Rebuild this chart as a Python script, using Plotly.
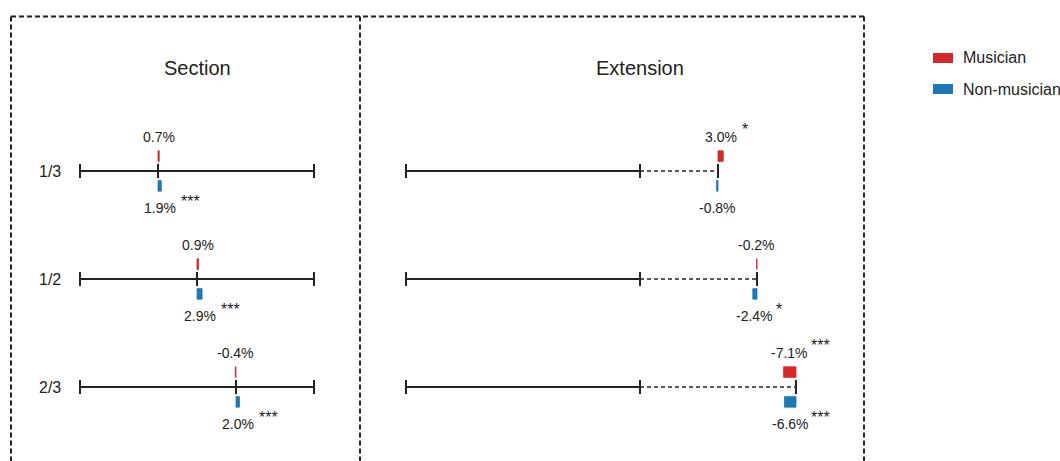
import plotly.graph_objects as go

# ---- data -------------------------------------------------------------
fractions = [1/3, 1/2, 2/3]
row_labels = ["1/3", "1/2", "2/3"]

# bias (%) for the section task
section_musician = [0.7, 0.9, -0.4]
section_nonmusician = [1.9, 2.9, 2.0]
section_musician_sig = ["", "", ""]
section_nonmusician_sig = ["***", "***", "***"]

# bias (%) for the extension task
extension_musician = [3.0, -0.2, -7.1]
extension_nonmusician = [-0.8, -2.4, -6.6]
extension_musician_sig = ["*", "", "***"]
extension_nonmusician_sig = ["", "*", "***"]

groups = ["Musician", "Non-musician"]
colors = {"Musician": "#d62728", "Non-musician": "#1f77b4"}

# ---- geometry ---------------------------------------------------------
W, H = 1060, 461
PX_PER_UNIT = 234.0          # length of one reference line in pixels
LINE_START_PX = 80.0
RIGHT_OFFSET = (406.0 - LINE_START_PX) / PX_PER_UNIT   # start of extension line
ROW0_PX, ROW_STEP_PX = 171.0, 108.0
BAR_SCALE = 1.75 / PX_PER_UNIT                        # line units per 1 % bias
BAR_OFFSET, BAR_WIDTH = 0.138, 0.098
CAP = 10
INK = "#222222"
FONT = "Liberation Sans, Arial, sans-serif"

x_range = [-LINE_START_PX / PX_PER_UNIT, (W - LINE_START_PX) / PX_PER_UNIT]
y_range = [(H - ROW0_PX) / ROW_STEP_PX, -ROW0_PX / ROW_STEP_PX]

fig = go.Figure()


def hline(x0, x1, y, dash="solid"):
    fig.add_trace(go.Scatter(
        x=[x0, x1], y=[y, y], mode="lines",
        line=dict(color=INK, width=2 if dash == "solid" else 1.5, dash=dash),
        hoverinfo="skip", showlegend=False))


def ticks(xs, y):
    fig.add_trace(go.Scatter(
        x=xs, y=[y] * len(xs), mode="markers",
        marker=dict(symbol="line-ns-open", size=CAP, color=INK,
                    line=dict(color=INK, width=2)),
        hoverinfo="skip", showlegend=False))


annotations = []


def bars(anchor_x, rows, values, sigs, group):
    sign = -1 if group == "Musician" else 1
    ys = [r + sign * BAR_OFFSET for r in rows]
    fig.add_trace(go.Bar(
        orientation="h", y=ys, x=[v * BAR_SCALE for v in values],
        base=anchor_x, width=BAR_WIDTH,
        marker=dict(color=colors[group], line=dict(color=colors[group], width=0.8)),
        hoverinfo="skip", showlegend=False))
    for ax, r, v, s in zip(anchor_x, rows, values, sigs):
        cx = ax + v * BAR_SCALE / 2
        ly = r + (-0.315 if group == "Musician" else 0.343)
        annotations.append(dict(
            x=cx, y=ly, text=f"{v:.1f}%", showarrow=False,
            xanchor="center", yanchor="middle",
            font=dict(size=14, color=INK, family=FONT)))
        if s:
            annotations.append(dict(
                x=cx, y=ly, text=s, showarrow=False,
                xanchor="left", yanchor="middle", xshift=19, yshift=7,
                font=dict(size=16, color=INK, family=FONT)))


rows = list(range(len(fractions)))

# Section panel: full line with a mark at the fraction
for r, f in zip(rows, fractions):
    hline(0, 1, r)
    ticks([0, f, 1], r)
sec_anchor = list(fractions)
bars(sec_anchor, rows, section_musician, section_musician_sig, "Musician")
bars(sec_anchor, rows, section_nonmusician, section_nonmusician_sig, "Non-musician")

# Extension panel: full line, then a dashed extension by the fraction
for r, f in zip(rows, fractions):
    hline(RIGHT_OFFSET, RIGHT_OFFSET + 1, r)
    hline(RIGHT_OFFSET + 1, RIGHT_OFFSET + 1 + f, r, dash="4px,3px")
    ticks([RIGHT_OFFSET, RIGHT_OFFSET + 1, RIGHT_OFFSET + 1 + f], r)
ext_anchor = [RIGHT_OFFSET + 1 + f for f in fractions]
bars(ext_anchor, rows, extension_musician, extension_musician_sig, "Musician")
bars(ext_anchor, rows, extension_nonmusician, extension_nonmusician_sig, "Non-musician")

# row labels
for r, lab in zip(rows, row_labels):
    annotations.append(dict(
        x=-(LINE_START_PX - 63) / PX_PER_UNIT, y=r, text=lab, showarrow=False,
        xanchor="right", yanchor="middle",
        font=dict(size=16, color=INK, family=FONT)))

# panel titles
title_y = (68 - ROW0_PX) / ROW_STEP_PX
annotations.append(dict(x=0.5, y=title_y, text="Section", showarrow=False,
                        xanchor="center", yanchor="middle",
                        font=dict(size=20, color=INK, family=FONT)))
annotations.append(dict(x=RIGHT_OFFSET + 1.0, y=title_y, text="Extension",
                        showarrow=False, xanchor="center", yanchor="middle",
                        font=dict(size=20, color=INK, family=FONT)))


def px(x):
    return x / W


def py(y):
    return 1 - y / H


# dashed panel frames
shapes = []
frame = dict(color=INK, width=2, dash="5px,3px")
top, bottom = 16.5, 480
for x0, x1 in [(11, 864)]:
    shapes.append(dict(type="line", xref="paper", yref="paper",
                       x0=px(x0), x1=px(x1), y0=py(top), y1=py(top), line=frame))
for xv in [11, 360, 864]:
    shapes.append(dict(type="line", xref="paper", yref="paper",
                       x0=px(xv), x1=px(xv), y0=py(top), y1=py(bottom), line=frame))

# legend
for i, g in enumerate(groups):
    cy = 58 + i * 31
    shapes.append(dict(type="rect", xref="paper", yref="paper",
                       x0=px(933), x1=px(953), y0=py(cy - 5), y1=py(cy + 5),
                       fillcolor=colors[g], line=dict(width=0)))
    annotations.append(dict(xref="paper", yref="paper", x=px(961), y=py(cy),
                            text=g, showarrow=False, xanchor="left",
                            yanchor="middle",
                            font=dict(size=16, color=INK, family=FONT)))

fig.update_layout(
    width=W, height=H, margin=dict(l=0, r=0, t=0, b=0),
    paper_bgcolor="white", plot_bgcolor="white",
    barmode="overlay", showlegend=False,
    xaxis=dict(range=x_range, visible=False, fixedrange=True),
    yaxis=dict(range=y_range, visible=False, fixedrange=True),
    shapes=shapes, annotations=annotations,
)

fig.write_html("out.html")
